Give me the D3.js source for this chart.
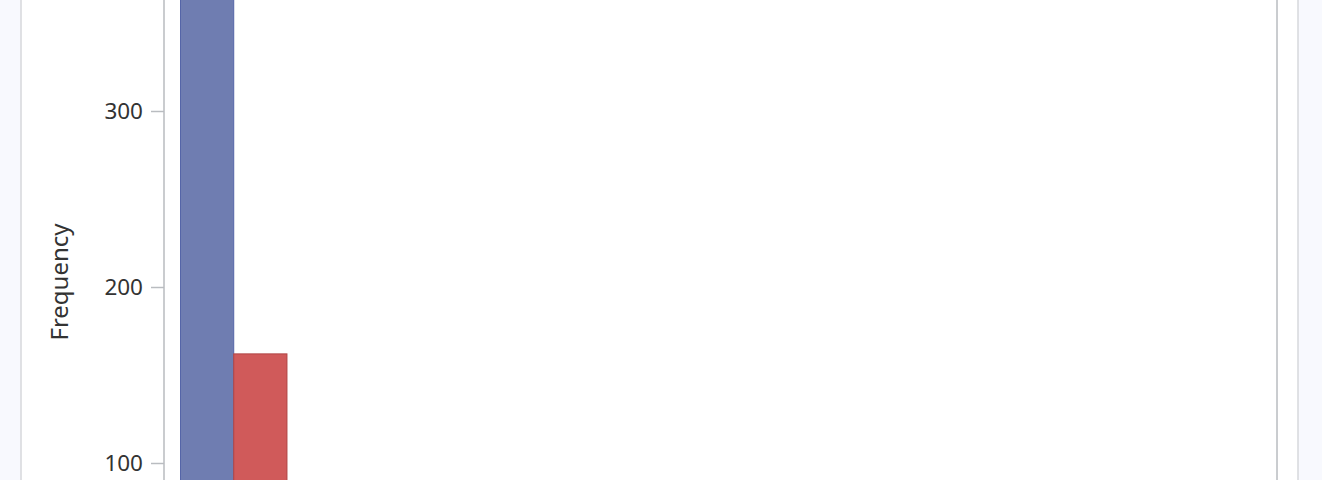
<!DOCTYPE html>
<html>
<head>
<meta charset="utf-8">
<script src="https://cdn.jsdelivr.net/npm/d3@7"></script>
<style>
  html, body { margin: 0; padding: 0; background: #f8f9fe; }
  svg { display: block; font-family: "Noto Sans", "Open Sans", sans-serif; }
</style>
</head>
<body>
<div id="chart"></div>
<script>
// Histogram bins (start, end) and counts
const binStarts = [0, 1];
const binEnds = [1, 2];
const counts = [420, 162];
const groups = ["A", "B"];
const yTicks = [100, 200, 300];

const width = 1322;
const height = 480;

const svg = d3.select("#chart")
  .append("svg")
  .attr("width", width)
  .attr("height", height);

// Outer panel
svg.append("rect")
  .attr("x", 21).attr("y", -10)
  .attr("width", 1277).attr("height", height + 20)
  .attr("fill", "#ffffff")
  .attr("stroke", "#d6d8dc")
  .attr("stroke-width", 1.5);

// Plot area
const left = 164, right = 1277;

const x = d3.scaleLinear()
  .domain([-0.31, 20.6])
  .range([left, right]);

const y = d3.scaleLinear()
  .domain([0, 300])
  .range([639, 111]);

const color = d3.scaleOrdinal()
  .domain(groups)
  .range(["#6f7db1", "#d05a5a"]);
const strokeColor = d3.scaleOrdinal()
  .domain(groups)
  .range(["#5565a8", "#b04545"]);

// Frame
svg.append("rect")
  .attr("x", left).attr("y", -20)
  .attr("width", right - left).attr("height", height + 40)
  .attr("fill", "none")
  .attr("stroke", "#b9bcc0")
  .attr("stroke-width", 1.5);

// Bars
svg.selectAll(".bar")
  .data(counts)
  .enter()
  .append("rect")
  .attr("class", "bar")
  .attr("x", (d, i) => x(binStarts[i]))
  .attr("y", d => y(d))
  .attr("width", (d, i) => x(binEnds[i]) - x(binStarts[i]))
  .attr("height", d => y(0) - y(d))
  .attr("fill", (d, i) => color(groups[i]))
  .attr("stroke", (d, i) => strokeColor(groups[i]))
  .attr("stroke-width", 1);

// Y axis
const yAxis = svg.append("g")
  .attr("transform", `translate(${left},0)`)
  .call(d3.axisLeft(y).tickValues(yTicks).tickSize(13).tickPadding(8));
yAxis.select(".domain").remove();
yAxis.selectAll(".tick line").attr("stroke", "#b9bcc0").attr("stroke-width", 1.5);
yAxis.selectAll(".tick text")
  .attr("fill", "#333333")
  .style("font-family", "'Noto Sans', 'Open Sans', sans-serif")
  .style("font-size", "22.5px");

// Y label
svg.append("text")
  .attr("transform", "rotate(-90)")
  .attr("x", -282)
  .attr("y", 68)
  .attr("text-anchor", "middle")
  .attr("fill", "#333333")
  .style("font-size", "24px")
  .text("Frequency");
</script>
</body>
</html>
